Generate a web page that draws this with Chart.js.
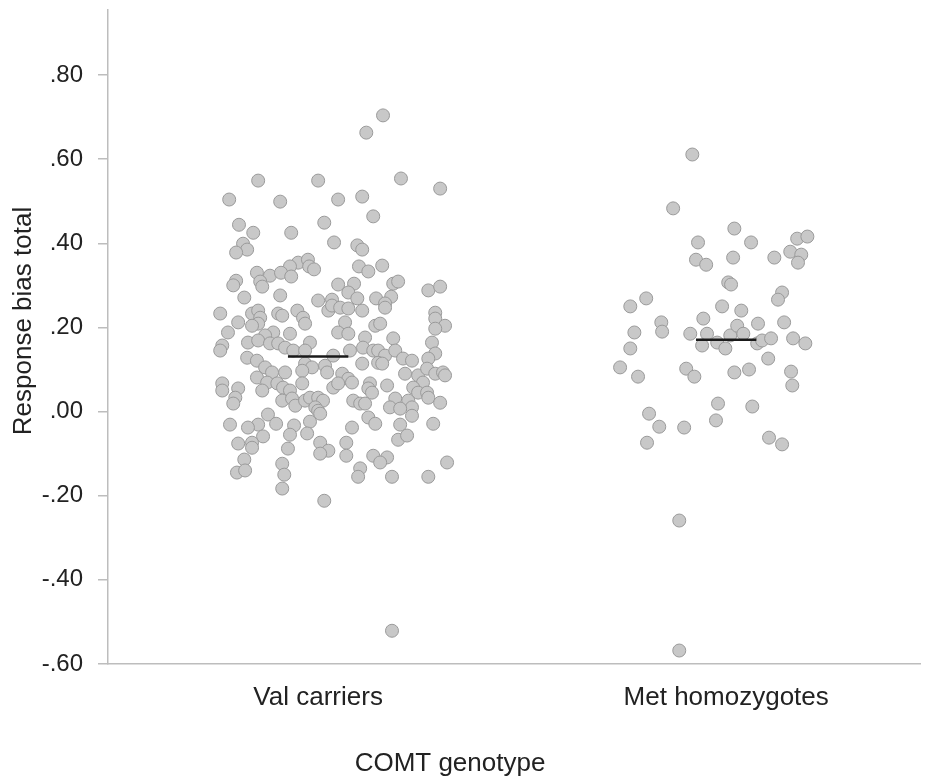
<!DOCTYPE html>
<html>
<head>
<meta charset="utf-8">
<script src="https://cdn.jsdelivr.net/npm/chart.js@4/dist/chart.umd.min.js"></script>
<style>
  body { margin: 0; background: #fff; }
  #wrap { width: 928px; height: 783px; }
</style>
</head>
<body>
<div id="wrap"><canvas id="chart" width="928" height="783"></canvas></div>
<script>
// categories (x positions 0 and 1)
const groups = ['Val carriers', 'Met homozygotes'];
const yTicks = [-0.6, -0.4, -0.2, 0, 0.2, 0.4, 0.6, 0.8];
const xTitle = 'COMT genotype';
const yTitle = 'Response bias total';

// group means
const groupMeans = [0.131, 0.171];

// Val carriers: response bias and horizontal jitter
const valY = [
  0.704, 0.663, 0.549, 0.549, 0.554, 0.530, 0.504, 0.499, 0.504, 0.511,
  0.464, 0.444, 0.449, 0.425, 0.425, 0.402, 0.399, 0.385, 0.378, 0.395,
  0.385, 0.354, 0.361, 0.345, 0.345, 0.338, 0.345, 0.333, 0.347, 0.330,
  0.323, 0.330, 0.321, 0.311, 0.300, 0.309, 0.297, 0.302, 0.304, 0.283,
  0.269, 0.304, 0.309, 0.273, 0.269, 0.257, 0.288, 0.297, 0.271, 0.276,
  0.264, 0.266, 0.233, 0.233, 0.240, 0.223, 0.233, 0.228, 0.240, 0.223,
  0.209, 0.240, 0.252, 0.247, 0.245, 0.240, 0.247, 0.212, 0.204, 0.209,
  0.235, 0.221, 0.204, 0.197, 0.212, 0.209, 0.204, 0.188, 0.188, 0.185,
  0.181, 0.188, 0.185, 0.176, 0.174, 0.164, 0.169, 0.162, 0.162, 0.152,
  0.157, 0.145, 0.164, 0.164, 0.128, 0.121, 0.145, 0.145, 0.133, 0.145,
  0.152, 0.145, 0.145, 0.133, 0.145, 0.126, 0.121, 0.138, 0.126, 0.116,
  0.114, 0.114, 0.114, 0.105, 0.097, 0.109, 0.093, 0.090, 0.078, 0.069,
  0.105, 0.093, 0.093, 0.081, 0.069, 0.067, 0.057, 0.067, 0.057, 0.067,
  0.067, 0.055, 0.062, 0.090, 0.086, 0.069, 0.102, 0.090, 0.093, 0.086,
  0.067, 0.050, 0.055, 0.050, 0.050, 0.057, 0.045, 0.045, 0.033, 0.045,
  0.033, 0.019, 0.026, 0.031, 0.014, 0.026, 0.033, 0.033, 0.026, 0.010,
  0.026, 0.019, 0.031, 0.026, 0.010, 0.021, 0.002, -0.005, 0.019, 0.010,
  0.007, -0.010, -0.007, -0.029, -0.031, -0.038, -0.031, -0.033, -0.024, -0.014,
  -0.029, -0.038, -0.031, -0.029, -0.055, -0.052, -0.059, -0.074, -0.086, -0.076,
  -0.074, -0.074, -0.067, -0.057, -0.088, -0.093, -0.100, -0.105, -0.105, -0.109,
  -0.121, -0.114, -0.124, -0.121, -0.145, -0.140, -0.150, -0.135, -0.155, -0.155,
  -0.155, -0.183, -0.212, -0.521
];
const valJitter = [
  0.159, 0.118, -0.147, 0.000, 0.203, 0.299, -0.218, -0.093, 0.049, 0.108,
  0.135, -0.194, 0.015, -0.159, -0.066, 0.039, -0.184, -0.174, -0.201, 0.096,
  0.108, -0.049, -0.025, -0.069, -0.022, -0.010, 0.100, 0.123, 0.157, -0.150,
  -0.118, -0.091, -0.066, -0.201, -0.208, -0.142, -0.137, 0.049, 0.088, 0.074,
  0.096, 0.184, 0.196, 0.179, 0.142, 0.164, 0.270, 0.299, -0.181, -0.093,
  0.000, 0.034, -0.240, -0.162, -0.147, -0.142, -0.098, -0.088, -0.051, -0.037,
  -0.032, 0.025, 0.034, 0.054, 0.074, 0.108, 0.164, 0.066, 0.140, 0.152,
  0.287, 0.287, 0.311, 0.287, -0.196, -0.147, -0.162, -0.221, -0.110, -0.069,
  -0.130, 0.049, 0.074, 0.115, 0.184, -0.172, -0.147, -0.118, -0.098, -0.081,
  -0.235, -0.240, -0.020, 0.279, -0.174, -0.150, -0.061, -0.032, 0.037, 0.078,
  0.110, 0.135, 0.147, 0.164, 0.189, 0.208, 0.230, 0.287, 0.270, 0.147,
  0.157, 0.108, -0.032, -0.015, -0.039, 0.017, 0.022, 0.059, 0.074, 0.083,
  -0.130, -0.113, -0.081, -0.150, -0.125, -0.100, -0.086, -0.039, 0.037, 0.049,
  0.127, 0.123, 0.169, 0.213, 0.245, 0.257, 0.267, 0.287, 0.306, 0.311,
  -0.235, -0.235, -0.196, -0.137, -0.069, 0.233, 0.245, 0.267, 0.270, 0.132,
  -0.203, -0.208, -0.088, -0.064, -0.056, -0.032, -0.020, 0.000, 0.012, -0.007,
  0.086, 0.103, 0.189, 0.221, 0.230, 0.299, 0.000, 0.005, 0.115, 0.176,
  0.201, 0.230, -0.123, -0.103, -0.147, -0.172, -0.216, -0.059, -0.020, 0.123,
  0.140, 0.083, 0.201, 0.282, -0.069, -0.027, -0.135, -0.162, -0.162, -0.196,
  0.005, 0.069, 0.196, 0.218, -0.074, 0.025, 0.005, 0.069, 0.135, 0.169,
  0.152, -0.181, -0.088, 0.316, -0.199, -0.179, -0.083, 0.103, 0.098, 0.181,
  0.270, -0.088, 0.015, 0.181
];

// Met homozygotes: response bias and horizontal jitter
const metY = [
  0.611, 0.483, 0.435, 0.402, 0.402, 0.411, 0.416, 0.361, 0.349, 0.366,
  0.366, 0.380, 0.373, 0.354, 0.307, 0.302, 0.283, 0.266, 0.250, 0.269,
  0.250, 0.240, 0.212, 0.190, 0.188, 0.221, 0.185, 0.185, 0.157, 0.164,
  0.150, 0.181, 0.204, 0.185, 0.209, 0.162, 0.169, 0.174, 0.212, 0.174,
  0.162, 0.150, 0.126, 0.105, 0.083, 0.102, 0.083, 0.093, 0.100, 0.095,
  0.062, 0.019, 0.012, -0.005, -0.036, -0.038, -0.021, -0.074, -0.062, -0.078,
  -0.259, -0.568
];
const metJitter = [
  -0.083, -0.130, 0.020, -0.069, 0.061, 0.174, 0.199, -0.074, -0.049, 0.017,
  0.118, 0.157, 0.184, 0.176, 0.005, 0.012, 0.137, 0.127, -0.235, -0.196,
  -0.010, 0.037, -0.159, -0.157, -0.225, -0.056, -0.088, -0.047, -0.059, -0.022,
  -0.002, 0.010, 0.027, 0.042, 0.078, 0.076, 0.088, 0.110, 0.142, 0.164,
  0.194, -0.235, 0.103, -0.260, -0.216, -0.098, -0.078, 0.020, 0.056, 0.159,
  0.162, -0.020, 0.064, -0.189, -0.164, -0.103, -0.025, -0.194, 0.105, 0.137,
  -0.115, -0.115
];

const MEAN_HALF = 0.074;

function points(ys, jit, g) {
  return ys.map((y, i) => ({ x: g + jit[i], y: y }));
}

function meanLine(g) {
  return [{ x: g - MEAN_HALF, y: groupMeans[g] }, { x: g + MEAN_HALF, y: groupMeans[g] }];
}

const pointStyle = {
  backgroundColor: '#c8c8c8',
  borderColor: '#9a9a9a',
  borderWidth: 1,
  pointRadius: 6.5,
  pointHoverRadius: 6.5,
  order: 2
};

const lineStyle = {
  type: 'line',
  borderColor: '#1a1a1a',
  borderWidth: 2.5,
  pointRadius: 0,
  fill: false,
  order: 0
};

const font = 'Liberation Sans, Arial, sans-serif';

// axis titles sit off-centre in the original, so they are drawn here
const axisTitles = {
  id: 'axisTitles',
  afterDraw(chart) {
    const ctx = chart.ctx;
    ctx.save();
    ctx.fillStyle = '#222';
    ctx.font = '26px ' + font;
    ctx.textAlign = 'center';
    ctx.textBaseline = 'middle';
    ctx.fillText(xTitle, 450, 764);
    ctx.translate(24, 321);
    ctx.rotate(-Math.PI / 2);
    ctx.fillText(yTitle, 0, 0);
    ctx.restore();
  }
};

new Chart(document.getElementById('chart'), {
  type: 'scatter',
  data: {
    datasets: [
      Object.assign({ label: groups[0], data: points(valY, valJitter, 0) }, pointStyle),
      Object.assign({ label: groups[1], data: points(metY, metJitter, 1) }, pointStyle),
      Object.assign({ label: 'mean0', data: meanLine(0) }, lineStyle),
      Object.assign({ label: 'mean1', data: meanLine(1) }, lineStyle)
    ]
  },
  plugins: [axisTitles],
  options: {
    responsive: false,
    animation: false,
    layout: { padding: { top: 10, right: 8, left: 0, bottom: 0 } },
    plugins: {
      legend: { display: false },
      tooltip: { enabled: false }
    },
    scales: {
      x: {
        type: 'linear',
        min: -0.515,
        max: 1.475,
        afterBuildTicks: s => { s.ticks = groups.map((g, i) => ({ value: i })); },
        afterFit: s => { s.height = 119; s.paddingLeft = 0; s.paddingRight = 0; },
        grid: { display: true, drawOnChartArea: false, drawTicks: false, color: 'rgba(0,0,0,0)' },
        border: { display: true, color: '#bdbdbd', width: 1.5 },
        ticks: {
          padding: 18,
          color: '#222',
          font: { family: font, size: 26 },
          callback: v => groups[v]
        }
      },
      y: {
        min: -0.6,
        max: 0.9545,
        afterBuildTicks: s => { s.ticks = yTicks.map(v => ({ value: v })); },
        afterFit: s => { s.width = 108; s.paddingTop = 0; s.paddingBottom = 0; },
        grid: { drawOnChartArea: false, drawTicks: true, tickLength: 10, color: '#bdbdbd', lineWidth: 1.5 },
        border: { display: true, color: '#bdbdbd', width: 1.5 },
        ticks: {
          padding: 15,
          color: '#222',
          font: { family: font, size: 24 },
          callback: v => v.toFixed(2).replace('0.', '.')
        }
      }
    }
  }
});
</script>
</body>
</html>
